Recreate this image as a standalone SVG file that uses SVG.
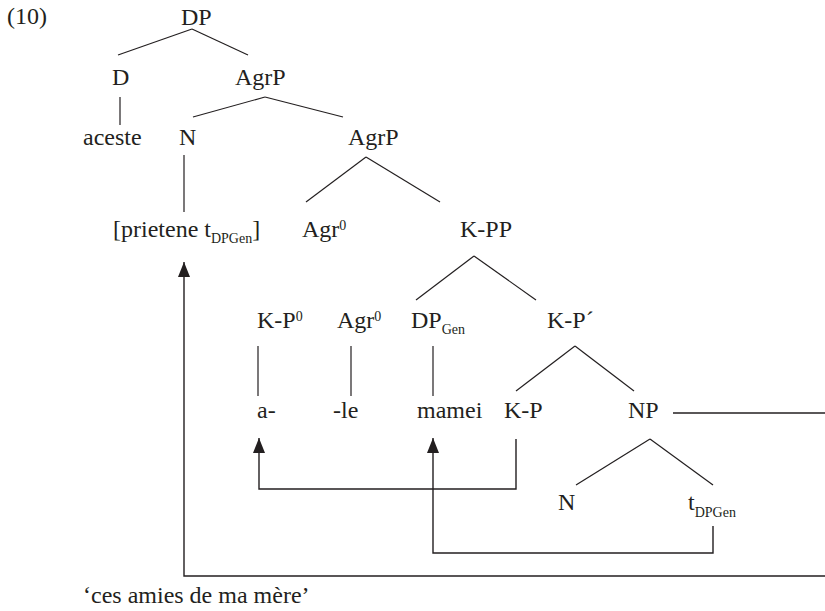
<svg xmlns="http://www.w3.org/2000/svg" width="825" height="611" viewBox="0 0 825 611">
<style>
text{font-family:"Liberation Serif","Times New Roman",serif;font-size:24px;fill:#231f20}
.sub{font-size:14px}
.e{stroke:#231f20;stroke-width:1.2;fill:none}
.mv{stroke:#231f20;stroke-width:1.4;fill:none}
</style>
<defs>
<marker id="ah" viewBox="0 0 15 12" refX="15" refY="6" markerWidth="15" markerHeight="12" markerUnits="userSpaceOnUse" orient="auto">
<path d="M0,0 L15,6 L0,12 z" fill="#231f20"/>
</marker>
</defs>
<rect width="825" height="611" fill="#fff"/>
<text id="label" x="7" y="24">(10)</text>
<g id="connectors">
<line class="e" x1="192" y1="29" x2="118" y2="55"/>
<line class="e" x1="192" y1="29" x2="248" y2="55"/>
<line class="e" x1="120" y1="97" x2="120" y2="125"/>
<line class="e" x1="265" y1="97" x2="193" y2="117"/>
<line class="e" x1="265" y1="97" x2="343" y2="117"/>
<line class="e" x1="184" y1="155" x2="184" y2="212"/>
<line class="e" x1="366" y1="157" x2="306" y2="202"/>
<line class="e" x1="366" y1="157" x2="440" y2="202"/>
<line class="e" x1="474" y1="256" x2="416" y2="300"/>
<line class="e" x1="474" y1="256" x2="536" y2="300"/>
<line class="e" x1="258" y1="346" x2="258" y2="396"/>
<line class="e" x1="351" y1="346" x2="351" y2="396"/>
<line class="e" x1="433" y1="346" x2="433" y2="396"/>
<line class="e" x1="575" y1="346" x2="516" y2="391"/>
<line class="e" x1="575" y1="346" x2="634" y2="391"/>
<line class="e" x1="650" y1="439" x2="576" y2="485"/>
<line class="e" x1="650" y1="439" x2="713" y2="485"/>
<line class="mv" x1="673" y1="413" x2="825" y2="413"/>
<path class="mv" d="M825,576 H184 V262" marker-end="url(#ah)"/>
<path class="mv" d="M516,439 V489 H259 V438" marker-end="url(#ah)"/>
<path class="mv" d="M713,526 V553 H433 V438" marker-end="url(#ah)"/>
</g>
<g id="n-DP"><text x="181" y="25">DP</text></g>
<g id="n-D"><text x="112" y="85">D</text></g>
<g id="n-AgrP1"><text x="235" y="85">AgrP</text></g>
<g id="n-aceste"><text x="83" y="145">aceste</text></g>
<g id="n-N1"><text x="179" y="145">N</text></g>
<g id="n-AgrP2"><text x="348" y="145">AgrP</text></g>
<g id="n-prietene"><text x="113" y="237">[prietene t<tspan class="sub" dy="6">DPGen</tspan><tspan dy="-6">]</tspan></text></g>
<g id="n-Agr0a"><text x="302" y="237">Agr<tspan class="sub" dy="-7">0</tspan></text></g>
<g id="n-KPP"><text x="460" y="237">K-PP</text></g>
<g id="n-KP0"><text x="257" y="328">K-P<tspan class="sub" dy="-7">0</tspan></text></g>
<g id="n-Agr0b"><text x="337" y="328">Agr<tspan class="sub" dy="-7">0</tspan></text></g>
<g id="n-DPGen"><text x="411" y="328">DP<tspan class="sub" dy="6">Gen</tspan></text></g>
<g id="n-KPbar"><text x="547" y="328">K-P´</text></g>
<g id="n-a"><text x="257" y="418">a-</text></g>
<g id="n-le"><text x="333" y="418">-le</text></g>
<g id="n-mamei"><text x="417" y="418">mamei</text></g>
<g id="n-KP"><text x="504" y="418">K-P</text></g>
<g id="n-NP"><text x="628" y="418">NP</text></g>
<g id="n-N2"><text x="558" y="510">N</text></g>
<g id="n-t"><text x="688" y="510">t<tspan class="sub" dy="7">DPGen</tspan></text></g>
<text id="gloss" x="83" y="603">‘ces amies de ma mère’</text>
</svg>
